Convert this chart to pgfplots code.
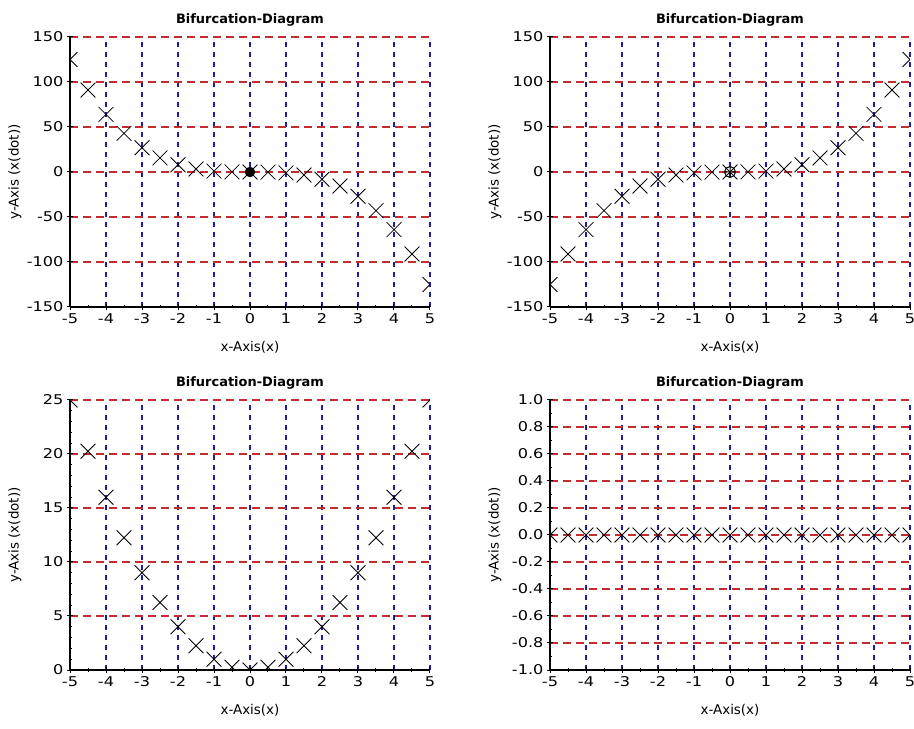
\documentclass[border=0pt]{standalone}
\usepackage{fontspec}
\setmainfont{DejaVu Sans}
\newfontfamily\tickfont{DejaVu Sans}[FakeStretch=1.2]
\usepackage{pgfplots}
\pgfplotsset{compat=1.18}
\definecolor{gridred}{RGB}{195,45,50}
\definecolor{gridblue}{RGB}{30,30,160}
\pgfplotsset{
 bif/.style={
  scale only axis, width=360bp, height=270bp,
  xmin=-5, xmax=5, xtick={-5,-4,-3,-2,-1,0,1,2,3,4,5}, minor x tick num=1,
  axis x line=bottom, axis y line=left,
  axis line style={-, line width=2bp, black},
  tick align=center, major tick length=6bp, minor tick length=3bp,
  tick style={line width=1bp},
  major tick style={black}, minor tick style={black},
  xmajorgrids, ymajorgrids,
  major x grid style={draw=gridblue, dash pattern=on 5bp off 5bp, line width=2bp},
  major y grid style={draw=gridred, dash pattern=on 8bp off 5bp, line width=2bp},
  title={Bifurcation-Diagram},
  title style={font=\fontsize{13}{15}\selectfont\bfseries, at={(axis description cs:0.5,1)}, anchor=south, yshift=1bp},
  xlabel={x-Axis(x)}, ylabel={y-Axis (x(dot))},
  xlabel style={font=\fontsize{13.5}{15}\selectfont, at={(axis description cs:0.5,-0.151)}, anchor=center},
  ylabel style={font=\fontsize{13.5}{15}\selectfont, at={(axis description cs:-0.153,0.5)}, anchor=center},
  ticklabel style={font=\tickfont\fontsize{13.5}{15}\selectfont},
  /pgf/number format/assume math mode=true,
  clip marker paths=true,
 },
 xs/.style={only marks, mark=x, mark size=10.5bp, black, line width=0.8bp},
}
\begin{document}
\begin{tikzpicture}
\path[use as bounding box] (0,0) rectangle (914bp,729bp);
\clip (0,0) rectangle (914bp,729bp);
% top-left
\begin{axis}[bif, at={(70bp,422bp)}, anchor=south west,
  ymin=-150, ymax=150, ytick={-150,-100,-50,0,50,100,150}]
\addplot[xs] coordinates {(-5,125) (-4.5,91.125) (-4,64) (-3.5,42.875) (-3,27) (-2.5,15.625) (-2,8) (-1.5,3.375) (-1,1) (-0.5,0.125) (0,0) (0.5,-0.125) (1,-1) (1.5,-3.375) (2,-8) (2.5,-15.625) (3,-27) (3.5,-42.875) (4,-64) (4.5,-91.125) (5,-125)};
\addplot[only marks, mark=*, mark size=5bp, black] coordinates {(0,0)};
\end{axis}
% top-right
\begin{axis}[bif, at={(550bp,422bp)}, anchor=south west,
  ymin=-150, ymax=150, ytick={-150,-100,-50,0,50,100,150}]
\addplot[xs] coordinates {(-5,-125) (-4.5,-91.125) (-4,-64) (-3.5,-42.875) (-3,-27) (-2.5,-15.625) (-2,-8) (-1.5,-3.375) (-1,-1) (-0.5,-0.125) (0,0) (0.5,0.125) (1,1) (1.5,3.375) (2,8) (2.5,15.625) (3,27) (3.5,42.875) (4,64) (4.5,91.125) (5,125)};
\addplot[only marks, mark=oplus, mark size=5.5bp, black, line width=1bp] coordinates {(0,0)};
\end{axis}
% bottom-left
\begin{axis}[bif, at={(70bp,59bp)}, anchor=south west,
  ymin=0, ymax=25, ytick={0,5,10,15,20,25}, minor y tick num=4]
\addplot[xs] coordinates {(-5,25) (-4.5,20.25) (-4,16) (-3.5,12.25) (-3,9) (-2.5,6.25) (-2,4) (-1.5,2.25) (-1,1) (-0.5,0.25) (0,0) (0.5,0.25) (1,1) (1.5,2.25) (2,4) (2.5,6.25) (3,9) (3.5,12.25) (4,16) (4.5,20.25) (5,25)};
\end{axis}
% bottom-right
\begin{axis}[bif, at={(550bp,59bp)}, anchor=south west,
  ymin=-1, ymax=1, ytick={-1,-0.8,-0.6,-0.4,-0.2,0,0.2,0.4,0.6,0.8,1}, minor y tick num=1,
  yticklabel style={/pgf/number format/.cd, fixed, fixed zerofill, precision=1}]
\addplot[xs] coordinates {(-5,0) (-4.5,0) (-4,0) (-3.5,0) (-3,0) (-2.5,0) (-2,0) (-1.5,0) (-1,0) (-0.5,0) (0,0) (0.5,0) (1,0) (1.5,0) (2,0) (2.5,0) (3,0) (3.5,0) (4,0) (4.5,0) (5,0)};
\end{axis}
\end{tikzpicture}
\end{document}
